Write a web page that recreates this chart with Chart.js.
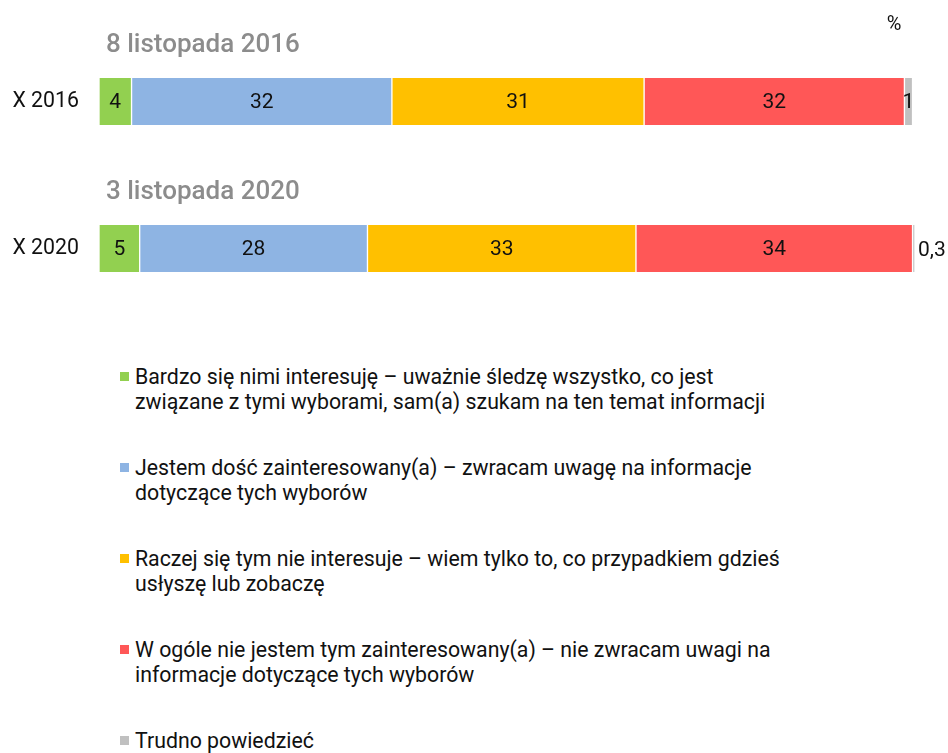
<!DOCTYPE html>
<html lang="pl">
<head>
<meta charset="utf-8">
<title>Zainteresowanie wyborami w USA</title>
<script src="https://cdn.jsdelivr.net/npm/chart.js@4/dist/chart.umd.min.js"></script>
<style>
    body { margin: 0; background: #fff; font-family: Roboto, "Noto Sans", sans-serif; }
    #wrap { position: relative; width: 948px; height: 753px; overflow: hidden; }
    #chart { position: absolute; left: 0; top: -5px; }
    #legend { position: absolute; left: 120px; top: 364px; margin: 0; padding: 0; list-style: none; }
    #legend li { position: relative; padding-left: 15px; font-size: 21.3px; line-height: 25px; color: #111; margin-bottom: 41px; white-space: nowrap; }
    #legend li span.box { position: absolute; left: 0; top: 8px; width: 9px; height: 9px; }
</style>
</head>
<body>
<div id="wrap">
    <canvas id="chart" width="948" height="360"></canvas>
    <ul id="legend"></ul>
</div>
<script>
// Survey rows
const rowLabels = ['X 2016', 'X 2020'];
const rowTitles = ['8 listopada 2016', '3 listopada 2020'];

// Answer categories (legend lines)
const answerLabels = [
    ['Bardzo się nimi interesuję – uważnie śledzę wszystko, co jest', 'związane z tymi wyborami, sam(a) szukam na ten temat informacji'],
    ['Jestem dość zainteresowany(a) – zwracam uwagę na informacje', 'dotyczące tych wyborów'],
    ['Raczej się tym nie interesuje – wiem tylko to, co przypadkiem gdzieś', 'usłyszę lub zobaczę'],
    ['W ogóle nie jestem tym zainteresowany(a) – nie zwracam uwagi na', 'informacje dotyczące tych wyborów'],
    ['Trudno powiedzieć']
];
const answerColors = ['#92d050', '#8eb4e3', '#ffc000', '#ff5757', '#c0c0c0'];

// Values in % per answer: [2016, 2020]
const veryInterested = [4, 5];
const fairlyInterested = [32, 28];
const ratherNot = [31, 33];
const notAtAll = [32, 34];
const hardToSay = [1, 0.3];

const seriesValues = [veryInterested, fairlyInterested, ratherNot, notAtAll, hardToSay];

document.addEventListener('DOMContentLoaded', () => {
    drawChart();
    buildLegend();
});

function fmt(v) {
    return String(v).replace('.', ',');
}

// Value labels inside each segment, titles above each bar and the % mark
const decorPlugin = {
    id: 'decor',
    afterDatasetsDraw(chart) {
        const ctx = chart.ctx;
        ctx.save();
        ctx.font = '21px Roboto';
        ctx.fillStyle = '#111';
        ctx.textBaseline = 'middle';
        chart.data.datasets.forEach((ds, i) => {
            const meta = chart.getDatasetMeta(i);
            meta.data.forEach((bar, j) => {
                const w = bar.x - bar.base;
                const v = ds.data[j];
                if (w < 5) {
                    ctx.textAlign = 'left';
                    ctx.fillText(fmt(v), bar.x + 3, bar.y + 2);
                } else {
                    ctx.textAlign = 'center';
                    ctx.fillText(fmt(v), (bar.x + bar.base) / 2, bar.y + 1);
                }
            });
        });

        const yScale = chart.scales.y;
        ctx.font = '500 26px Roboto';
        ctx.fillStyle = '#8c8c8c';
        ctx.textAlign = 'left';
        rowTitles.forEach((t, j) => {
            ctx.fillText(t, 106, yScale.getPixelForValue(j) - 56);
        });

        ctx.font = '20px Roboto';
        ctx.fillStyle = '#111';
        ctx.textAlign = 'center';
        ctx.fillText('%', 894, 30);
        ctx.restore();
    }
};

function drawChart() {
    const ctx = document.getElementById('chart').getContext('2d');
    new Chart(ctx, {
        type: 'bar',
        data: {
            labels: rowLabels,
            datasets: seriesValues.map((vals, i) => ({
                label: answerLabels[i].join(' '),
                data: vals,
                backgroundColor: answerColors[i],
                borderColor: '#ffffff',
                borderWidth: { left: 1, right: 1, top: 0, bottom: 0 },
                borderSkipped: false,
                barThickness: 47,
                clip: false
            }))
        },
        options: {
            indexAxis: 'y',
            responsive: false,
            animation: false,
            layout: { padding: { top: 18.5, bottom: 14, left: 0, right: 33 } },
            scales: {
                x: {
                    stacked: true,
                    display: false,
                    min: 0,
                    max: 100.3
                },
                y: {
                    stacked: true,
                    grid: { display: false, drawTicks: false },
                    border: { display: false },
                    ticks: {
                        color: '#111',
                        font: { family: 'Roboto', size: 21.3 },
                        padding: 20
                    },
                    afterFit(scale) {
                        scale.width = 99;
                    }
                }
            },
            plugins: {
                legend: { display: false },
                tooltip: { enabled: false }
            }
        },
        plugins: [decorPlugin]
    });
}

// Legend below the chart, wrapped as in the source
function buildLegend() {
    const list = document.getElementById('legend');
    answerLabels.forEach((lines, i) => {
        const li = document.createElement('li');
        const box = document.createElement('span');
        box.className = 'box';
        box.style.background = answerColors[i];
        li.appendChild(box);
        lines.forEach((line, k) => {
            if (k > 0) li.appendChild(document.createElement('br'));
            li.appendChild(document.createTextNode(line));
        });
        list.appendChild(li);
    });
}
</script>
</body>
</html>
